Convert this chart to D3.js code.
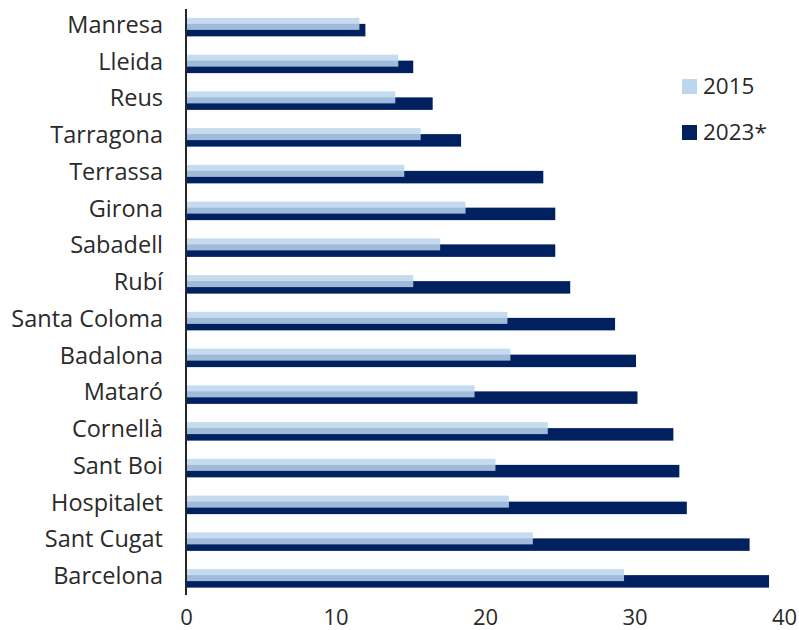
<!DOCTYPE html>
<html>
<head>
<meta charset="utf-8">
<script src="https://cdn.jsdelivr.net/npm/d3@7"></script>
<style>
  html, body { margin: 0; padding: 0; background: #fff; }
  svg { display: block; }
  text { font-family: "Open Sans", "Noto Sans", sans-serif; fill: #2a2a2a; }
</style>
</head>
<body>
<svg id="chart" width="799" height="630"></svg>
<script>
// Cities, top to bottom
const cities = ["Manresa", "Lleida", "Reus", "Tarragona", "Terrassa", "Girona", "Sabadell", "Rubí",
  "Santa Coloma", "Badalona", "Mataró", "Cornellà", "Sant Boi", "Hospitalet", "Sant Cugat", "Barcelona"];
const values2015 = [11.6, 14.2, 14.0, 15.7, 14.6, 18.7, 17.0, 15.2, 21.5, 21.7, 19.3, 24.2, 20.7, 21.6, 23.2, 29.3];
const values2023 = [12.0, 15.2, 16.5, 18.4, 23.9, 24.7, 24.7, 25.7, 28.7, 30.1, 30.2, 32.6, 33.0, 33.5, 37.7, 39.0];
const xTicks = [0, 10, 20, 30, 40];
const seriesNames = ["2015", "2023*"];

const colorLight = "#bbd6ed";
const colorDark = "#002060";

const svg = d3.select("#chart");

const x = d3.scaleLinear().domain([0, 40]).range([186, 784]);
const y = d3.scaleBand().domain(cities).range([9, 597]).padding(0);

// 2023 bars (lower, full colour)
svg.append("g").selectAll("rect")
  .data(cities)
  .join("rect")
  .attr("x", x(0))
  .attr("y", d => y(d) + y.bandwidth() / 2 - 3.5)
  .attr("width", (d, i) => x(values2023[i]) - x(0))
  .attr("height", 12.5)
  .attr("fill", colorDark);

// 2015 bars (upper, slightly translucent over the 2023 bars)
svg.append("g").selectAll("rect")
  .data(cities)
  .join("rect")
  .attr("x", x(0))
  .attr("y", d => y(d) + y.bandwidth() / 2 - 9.5)
  .attr("width", (d, i) => x(values2015[i]) - x(0))
  .attr("height", 12)
  .attr("fill", colorLight)
  .attr("fill-opacity", 0.855);

// Category axis
const yAxis = svg.append("g")
  .attr("transform", `translate(${x(0)},0)`)
  .call(d3.axisLeft(y).tickSize(0).tickPadding(23));
yAxis.select(".domain").remove();
yAxis.selectAll("text")
  .attr("dy", null)
  .attr("y", 5.5)
  .style("font-size", "23.5px");

// Vertical axis line
svg.append("line")
  .attr("x1", x(0)).attr("x2", x(0))
  .attr("y1", 9).attr("y2", 595)
  .attr("stroke", "#262626")
  .attr("stroke-width", 2);

// Value axis labels
const xAxis = svg.append("g")
  .attr("transform", "translate(0,600)")
  .call(d3.axisBottom(x).tickValues(xTicks).tickSize(0).tickPadding(0));
xAxis.select(".domain").remove();
xAxis.selectAll("text")
  .attr("dy", null)
  .attr("y", 25)
  .style("font-size", "22px");

// Legend
const legend = svg.append("g");
const legendRows = [
  { name: seriesNames[0], color: colorLight, y: 79 },
  { name: seriesNames[1], color: colorDark, y: 125 }
];
legend.selectAll("rect")
  .data(legendRows)
  .join("rect")
  .attr("x", 682)
  .attr("y", d => d.y)
  .attr("width", 15)
  .attr("height", 15)
  .attr("fill", d => d.color);
legend.selectAll("text")
  .data(legendRows)
  .join("text")
  .attr("x", 703)
  .attr("y", d => d.y + 15)
  .style("font-size", "22.5px")
  .text(d => d.name);
</script>
</body>
</html>
